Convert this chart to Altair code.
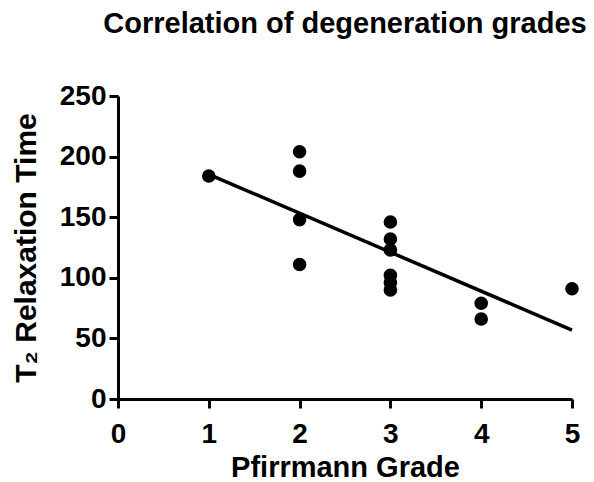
import altair as alt
import pandas as pd

# Data
grade = [1, 2, 2, 2, 2, 3, 3, 3, 3, 3, 3, 4, 4, 5]
t2 = [184, 204, 188, 148, 111, 146, 132, 123, 102, 96, 90, 79, 66, 91]
x_ticks = [0, 1, 2, 3, 4, 5]
y_ticks = [0, 50, 100, 150, 200, 250]

df = pd.DataFrame({"grade": grade, "t2": t2})

FONT = "Liberation Sans"

x_enc = alt.X(
    "grade:Q",
    scale=alt.Scale(domain=[0, 5], nice=False, zero=False),
    axis=alt.Axis(
        values=x_ticks, format="d", title="Pfirrmann Grade",
        labelFontSize=28, titleFontSize=29, labelPadding=12, titlePadding=5,
        labelFlush=False,
    ),
)
y_enc = alt.Y(
    "t2:Q",
    scale=alt.Scale(domain=[0, 250], nice=False),
    axis=alt.Axis(
        values=y_ticks, format="d", title="T₂ Relaxation Time",
        labelFontSize=28, titleFontSize=30, labelPadding=3, titlePadding=18,
    ),
)

points = alt.Chart(df).mark_circle(size=185, color="black", opacity=1).encode(x=x_enc, y=y_enc)

fit = (
    alt.Chart(df)
    .transform_regression("grade", "t2", extent=[1, 5])
    .mark_line(color="black", strokeWidth=3.5)
    .encode(x=x_enc, y=y_enc)
)

chart = (
    alt.layer(fit, points)
    .properties(
        width=454,
        height=303,
        padding={"left": 118, "top": 96, "right": 22, "bottom": 83},
        autosize=alt.AutoSizeParams(type="none"),
        title=alt.TitleParams(
            "Correlation of degeneration grades",
            font=FONT, fontSize=29, fontWeight="bold", color="black",
            anchor="middle", offset=43,
        ),
        background="white",
    )
    .configure_view(stroke=None)
    .configure_axis(
        grid=False,
        domainColor="black", domainWidth=3,
        tickColor="black", tickWidth=3, tickSize=9,
        labelFont=FONT, labelFontWeight="bold", labelColor="black",
        titleFont=FONT, titleFontWeight="bold", titleColor="black",
    )
)

chart.save("out.html", embed_options={"renderer": "svg", "actions": False})
